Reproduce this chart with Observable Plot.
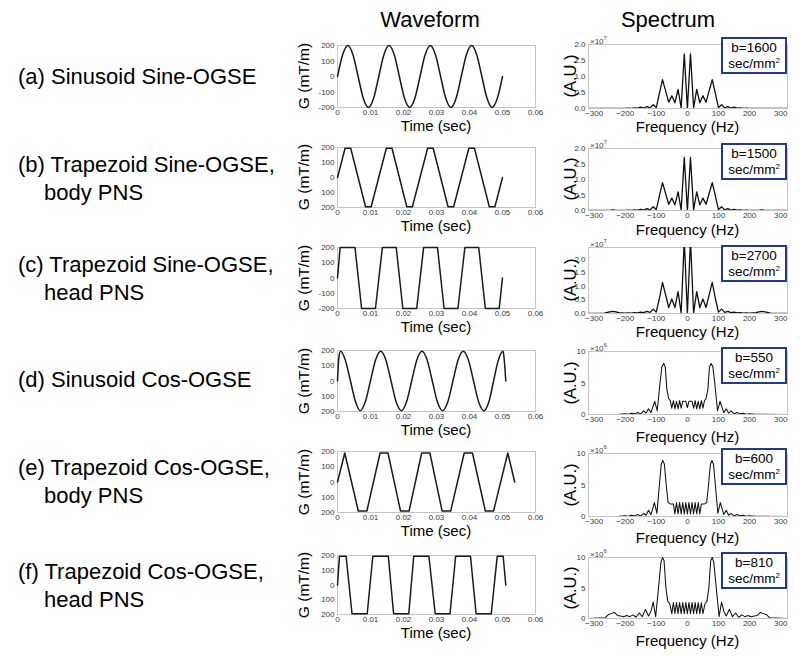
<!DOCTYPE html>
<html><head><meta charset="utf-8">
<script src="https://cdn.jsdelivr.net/npm/d3@7"></script>
<script src="https://cdn.jsdelivr.net/npm/@observablehq/plot@0.6"></script>
<style>
body{margin:0;background:#fff;}
#fig{position:relative;width:800px;height:656px;overflow:hidden;font-family:"Liberation Sans",Arial,Helvetica,sans-serif;color:#000;}
.abs{position:absolute;white-space:nowrap;}
.rowlab{font-size:22px;line-height:28px;}
.title{font-size:22px;line-height:1;transform:translateX(-50%);}
.xlab{font-size:15px;line-height:1;transform:translate(-50%,-50%);}
.ylab{font-size:15.5px;line-height:1;transform:translate(-50%,-50%) rotate(-90deg);}
.ylab2{font-size:16.5px;line-height:1;transform:translate(-50%,-50%) rotate(-90deg);}
.exp{font-size:8px;line-height:1;color:#404040;}
.exp sup{font-size:6px;vertical-align:4px;}
.bbox{border:2px solid #1f3a93;background:#fff;text-align:center;font-size:13.5px;line-height:16px;box-sizing:border-box;padding-top:1px;}
.bbox sup{font-size:8px;vertical-align:5px;line-height:0;}
svg{position:absolute;overflow:visible;}
</style></head><body><div id="fig"></div>
<script>
// ---------- data ----------
const rowLabels = [
  ["(a) Sinusoid Sine-OGSE"],
  ["(b) Trapezoid Sine-OGSE,", "body PNS"],
  ["(c) Trapezoid Sine-OGSE,", "head PNS"],
  ["(d) Sinusoid Cos-OGSE"],
  ["(e) Trapezoid Cos-OGSE,", "body PNS"],
  ["(f) Trapezoid Cos-OGSE,", "head PNS"]
];
const bValues = ["1600", "1500", "2700", "550", "600", "810"];
const timeTicks = [0, 0.01, 0.02, 0.03, 0.04, 0.05, 0.06];
const gTicks = [-200, -100, 0, 100, 200];
const gTickLabels = [
  ["-200", "-100", "0", "100", "200"],
  ["200", "100", "0", "100", "200"],
  ["-200", "-100", "0", "100", "200"],
  ["200", "100", "0", "100", "200"],
  ["200", "100", "0", "100", "200"],
  ["200", "100", "0", "100", "200"]
];
const freqTicks = [-300, -200, -100, 0, 100, 200, 300];
const specTicksE7 = [0, 0.5, 1, 1.5, 2];
const specTicksE6 = [0, 5, 10];
const specExponents = ["7", "7", "7", "6", "6", "6"];

// waveforms [time (s), G (mT/m)]
const waveA = [[0,0],[0.00156,141],[0.00313,200],[0.00469,141],[0.00625,0],[0.00781,-141],[0.00938,-200],[0.01094,-141],
  [0.0125,0],[0.01406,141],[0.01563,200],[0.01719,141],[0.01875,0],[0.02031,-141],[0.02188,-200],[0.02344,-141],
  [0.025,0],[0.02656,141],[0.02813,200],[0.02969,141],[0.03125,0],[0.03281,-141],[0.03438,-200],[0.03594,-141],
  [0.0375,0],[0.03906,141],[0.04063,200],[0.04219,141],[0.04375,0],[0.04531,-141],[0.04688,-200],[0.04844,-141],[0.05,0]];
const waveB = [[0,0],[0.0023,195],[0.0040,195],[0.0085,-195],[0.0102,-195],[0.0148,195],[0.0165,195],[0.0210,-195],
  [0.0227,-195],[0.0273,195],[0.0290,195],[0.0335,-195],[0.0352,-195],[0.0398,195],[0.0415,195],[0.0460,-195],
  [0.0477,-195],[0.0500,0]];
const waveC = [[0,0],[0.0008,200],[0.0053,200],[0.0073,-200],[0.0115,-200],[0.0136,200],[0.0178,200],[0.0198,-200],
  [0.0240,-200],[0.0261,200],[0.0303,200],[0.0323,-200],[0.0365,-200],[0.0386,200],[0.0428,200],[0.0448,-200],
  [0.0490,-200],[0.0500,0]];
const waveD = [[0,0],[0.0004,150],[0.0009,195],[0.00236,138],[0.00393,0],[0.00549,-138],[0.00685,-195],[0.00841,-138],
  [0.00998,0],[0.01154,138],[0.0131,195],[0.01466,138],[0.01623,0],[0.01779,-138],[0.01935,-195],[0.02091,-138],
  [0.02248,0],[0.02404,138],[0.0256,195],[0.02716,138],[0.02873,0],[0.03029,-138],[0.03185,-195],[0.03341,-138],
  [0.03498,0],[0.03654,138],[0.0381,195],[0.03966,138],[0.04123,0],[0.04279,-138],[0.04435,-195],[0.04585,-138],
  [0.0473,0],[0.04875,138],[0.0502,195],[0.0506,120],[0.0510,0]];
const waveE = [[0,0],[0.0022,190],[0.0063,-190],[0.0089,-190],[0.0129,190],[0.0153,190],[0.0191,-190],[0.0217,-190],
  [0.0255,190],[0.0280,190],[0.0317,-190],[0.0343,-190],[0.0384,190],[0.0409,190],[0.0448,-190],[0.0473,-190],
  [0.0516,190],[0.0537,0]];
const waveF = [[0,0],[0.0006,195],[0.0026,195],[0.0044,-195],[0.0090,-195],[0.0107,195],[0.0154,195],[0.0170,-195],
  [0.0216,-195],[0.0231,195],[0.0277,195],[0.0296,-195],[0.0341,-195],[0.0358,195],[0.0403,195],[0.0420,-195],
  [0.0466,-195],[0.0484,195],[0.0502,195],[0.0510,0]];

// spectra [frequency (Hz), amplitude (x10^7 for a-c, x10^6 for d-f)]
const specA = [[-318,0],[-200,0],[-190,0.01],[-180,0],[-170,0.02],[-160,0.01],[-150,0.04],[-140,0.01],[-130,0.06],[-120,0.02],
  [-110,0.12],[-100,0.03],[-90,0.47],[-80,0.9],[-70,0.55],[-60,0.2],[-50,0.4],[-40,0.18],[-30,0.6],[-20,0.02],[-10,1.71],[0,0],
  [10,1.71],[20,0.02],[30,0.6],[40,0.18],[50,0.4],[60,0.2],[70,0.55],[80,0.9],[90,0.47],[100,0.03],[110,0.12],[120,0.02],
  [130,0.06],[140,0.01],[150,0.04],[160,0.01],[170,0.02],[180,0],[190,0.01],[200,0],[322,0]];
const specB = [[-318,0],[-250,0],[-240,0.02],[-230,0],[-200,0],[-190,0.01],[-180,0],[-170,0.02],[-160,0.01],[-150,0.04],[-140,0.01],
  [-130,0.06],[-120,0.02],[-110,0.12],[-100,0.03],[-90,0.47],[-80,0.9],[-70,0.55],[-60,0.2],[-50,0.4],[-40,0.18],[-30,0.6],
  [-20,0.02],[-10,1.71],[0,0],[10,1.71],[20,0.02],[30,0.6],[40,0.18],[50,0.4],[60,0.2],[70,0.55],[80,0.9],[90,0.47],[100,0.03],
  [110,0.12],[120,0.02],[130,0.06],[140,0.01],[150,0.04],[160,0.01],[170,0.02],[180,0],[190,0.01],[200,0],[230,0],[240,0.02],
  [250,0],[322,0]];
const specC = [[-318,0],[-270,0],[-260,0.03],[-250,0.06],[-240,0.08],[-230,0.06],[-220,0.03],[-210,0.02],[-200,0.01],[-190,0.02],
  [-180,0.01],[-170,0.03],[-160,0.02],[-150,0.05],[-140,0.03],[-130,0.08],[-120,0.04],[-110,0.16],[-100,0.05],[-90,0.55],
  [-80,1.14],[-70,0.68],[-60,0.22],[-50,0.53],[-40,0.22],[-30,0.8],[-20,0.02],[-10,2.7],[0,0],[10,2.7],[20,0.02],[30,0.8],
  [40,0.22],[50,0.53],[60,0.22],[70,0.68],[80,1.14],[90,0.55],[100,0.05],[110,0.16],[120,0.04],[130,0.08],[140,0.03],
  [150,0.05],[160,0.02],[170,0.03],[180,0.01],[190,0.02],[200,0.01],[210,0.02],[220,0.03],[230,0.06],[240,0.08],[250,0.06],
  [260,0.03],[270,0],[322,0]];
const specD = [[-318,0],[-220,0.05],[-200,0.1],[-190,0.05],[-180,0.2],[-170,0.1],[-160,0.3],[-150,0.1],[-140,0.6],[-133,0.2],
  [-125,0.9],[-117,0.3],[-105,2.1],[-97,0.6],[-88,5.0],[-82,7.6],[-76,8.1],[-71,7.5],[-66,4.0],[-60,2.5],[-55,2.2],[-50,1.0],
  [-45,2.2],[-40,0.9],[-35,2.1],[-30,0.9],[-25,2.2],[-20,1.0],[-15,2.1],[-5,2.1],[0,1.1],[5,2.1],[15,2.1],[20,1.0],[25,2.2],
  [30,0.9],[35,2.1],[40,0.9],[45,2.2],[50,1.0],[55,2.2],[60,2.5],[66,4.0],[71,7.5],[76,8.1],[82,7.6],[88,5.0],[97,0.6],
  [105,2.1],[117,0.3],[125,0.9],[133,0.2],[140,0.6],[150,0.1],[160,0.3],[170,0.1],[180,0.2],[190,0.05],[200,0.1],[220,0.05],[322,0]];
const specE = [[-318,0],[-220,0.05],[-200,0.1],[-190,0.05],[-180,0.2],[-170,0.1],[-160,0.3],[-150,0.1],[-140,0.5],[-133,0.2],
  [-125,1.0],[-117,0.3],[-106,2.2],[-98,0.5],[-90,5.0],[-84,8.3],[-79,8.9],[-74,8.3],[-68,5.0],[-62,2.2],[-55,2.0],[-45,2.0],
  [-40,0.4],[-35,2.2],[-30,0.4],[-25,2.2],[-20,0.4],[-15,2.2],[-10,0.4],[-5,2.2],[0,0.4],[5,2.2],[10,0.4],[15,2.2],[20,0.4],
  [25,2.2],[30,0.4],[35,2.2],[40,0.4],[45,2.0],[55,2.0],[62,2.2],[68,5.0],[74,8.3],[79,8.9],[84,8.3],[90,5.0],[98,0.5],
  [106,2.2],[117,0.3],[125,1.0],[133,0.2],[140,0.5],[150,0.1],[160,0.3],[170,0.1],[180,0.2],[190,0.05],[200,0.1],[220,0.05],[322,0]];
const specF = [[-318,0],[-265,0.1],[-255,0.6],[-245,0.8],[-235,1.0],[-225,0.5],[-215,0.4],[-205,0.3],[-195,0.5],[-185,0.3],
  [-175,0.6],[-165,0.2],[-155,0.9],[-145,0.3],[-135,1.5],[-125,0.4],[-117,1.2],[-110,2.7],[-102,0.3],[-92,5.5],[-85,9.2],
  [-80,10.0],[-75,9.5],[-69,5.0],[-63,2.8],[-57,2.5],[-50,0.8],[-45,2.6],[-40,0.8],[-35,2.6],[-30,0.8],[-25,2.6],[-20,0.8],
  [-15,2.6],[-10,0.8],[-5,2.6],[0,0.8],[5,2.6],[10,0.8],[15,2.6],[20,0.8],[25,2.6],[30,0.8],[35,2.6],[40,0.8],[45,2.6],[50,0.8],
  [57,2.5],[63,2.8],[69,5.0],[75,9.5],[80,10.0],[85,9.2],[92,5.5],[102,0.3],[110,2.7],[117,1.2],[125,0.4],[135,1.5],
  [145,0.3],[155,0.9],[165,0.2],[175,0.6],[185,0.3],[195,0.5],[205,0.3],[215,0.4],[225,0.5],[235,1.0],[245,0.8],[255,0.6],
  [265,0.1],[322,0]];

const waves = [waveA, waveB, waveC, waveD, waveE, waveF];
const specs = [specA, specB, specC, specD, specE, specF];
const specDomains = [[0, 2], [0, 2], [0, 2.42], [0, 10], [0, 10], [0, 10]];
const sinusoid = [true, false, false, true, false, false];

// ---------- layout (pixels) ----------
const fig = document.getElementById("fig");
function add(cls, html, left, top, extra) {
  const d = document.createElement("div");
  d.className = "abs " + cls;
  d.innerHTML = html;
  d.style.left = left + "px";
  d.style.top = top + "px";
  if (extra) Object.assign(d.style, extra);
  fig.appendChild(d);
  return d;
}
add("title", "Waveform", 430, 9);
add("title", "Spectrum", 668, 9);

const waveTop = [45, 147, 247, 350, 451, 555];
const waveBottom = [107, 207, 308, 411, 512, 614];
const specTop = [44, 148, 247, 351, 453, 557];
const specBottom = [108, 210, 313, 414, 516, 618];
const labelTop = [63, 151, 251, 366, 454, 558];
const boxTop = [37, 143, 245, 347, 448, 552];
const timeLabelY = [125, 225, 326, 429, 530, 632];
const freqLabelY = [126, 229, 331, 436, 537, 640];
const WL = 337, WR = 535, SL = 588, SR = 787;
const mL = 30, mR = 8, mT = 3, mB = 14;

const axisStyle = {fontSize: "8px", fontFamily: "Liberation Sans, Arial, sans-serif", color: "#3a3a3a", background: "transparent", overflow: "visible"};

for (let i = 0; i < 6; i++) {
  const lab = rowLabels[i];
  add("rowlab", lab[0], 18, labelTop[i]);
  if (lab[1]) add("rowlab", lab[1], 44, labelTop[i] + 28);

  // waveform
  const wh = waveBottom[i] - waveTop[i];
  const wplot = Plot.plot({
    width: mL + (WR - WL) + mR, height: mT + wh + mB,
    marginLeft: mL, marginRight: mR, marginTop: mT, marginBottom: mB,
    style: axisStyle,
    x: {domain: [0, 0.06]},
    y: {domain: [-200, 200]},
    marks: [
      Plot.frame({stroke: "#c4c4c4"}),
      Plot.axisX({ticks: timeTicks, tickFormat: d => String(d), tickSize: 0, tickPadding: 2, label: null}),
      Plot.axisY({ticks: gTicks, tickFormat: d => gTickLabels[i][gTicks.indexOf(d)], tickSize: 0, tickPadding: 3, label: null}),
      Plot.line(waves[i], {x: d => d[0], y: d => d[1], stroke: "#1a1a1a", strokeWidth: 1.5,
        curve: sinusoid[i] ? "monotone-x" : "linear"})
    ]
  });
  wplot.style.left = (WL - mL) + "px";
  wplot.style.top = (waveTop[i] - mT) + "px";
  fig.appendChild(wplot);
  add("ylab", "G (mT/m)", 304, (waveTop[i] + waveBottom[i]) / 2);
  add("xlab", "Time (sec)", (WL + WR) / 2, timeLabelY[i]);

  // spectrum
  const sh = specBottom[i] - specTop[i];
  const e7 = i < 3;
  const splot = Plot.plot({
    width: mL + (SR - SL) + mR, height: mT + sh + mB,
    marginLeft: mL, marginRight: mR, marginTop: mT, marginBottom: mB,
    style: axisStyle,
    x: {domain: [-318, 322]},
    y: {domain: specDomains[i]},
    marks: [
      Plot.frame({stroke: "#c4c4c4"}),
      Plot.axisX({ticks: freqTicks, tickSize: 0, tickPadding: 2, label: null}),
      Plot.axisY({ticks: e7 ? specTicksE7 : specTicksE6, tickSize: 0, tickPadding: 3, label: null}),
      Plot.line(specs[i], {x: d => d[0], y: d => d[1], stroke: "#111", strokeWidth: e7 ? 1.3 : 1.05, clip: true})
    ]
  });
  splot.style.left = (SL - mL) + "px";
  splot.style.top = (specTop[i] - mT) + "px";
  fig.appendChild(splot);
  add("exp", "×10<sup>" + specExponents[i] + "</sup>", SL + 2, specTop[i] - 9);
  add("ylab2", "(A.U.)", 570, (specTop[i] + specBottom[i]) / 2);
  add("xlab", "Frequency (Hz)", (SL + SR) / 2, freqLabelY[i]);

  add("bbox", "b=" + bValues[i] + "<br>sec/mm<sup>2</sup>", 721, boxTop[i], {width: "66px", height: "37px"});
}
</script>
</body></html>
